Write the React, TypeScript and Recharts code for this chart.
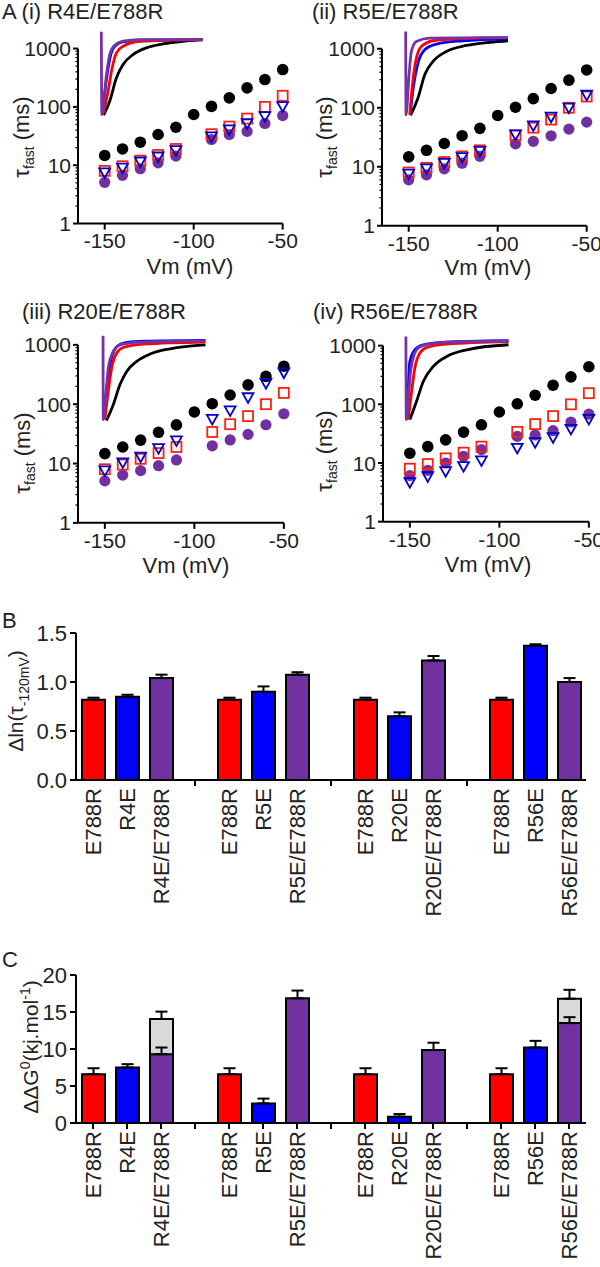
import React from 'react';
import {
  ScatterChart,
  Scatter,
  XAxis,
  YAxis,
  ReferenceLine,
  BarChart,
  Bar,
  Cell,
  ErrorBar,
} from 'recharts';

const FONT = '"Liberation Sans", Arial, Helvetica, sans-serif';
const INK = '#222';
const RED = '#ff0000';
const BLUE = '#0000ff';
const PURPLE = '#7030a0';

// ---------- panel A: tau_fast (ms) vs Vm (mV) ----------
const vmWT = [-150, -140, -130, -120, -110, -100, -90, -80, -70, -60, -50];
const vmMut = [-150, -140, -130, -120, -110, -90, -80, -70, -60, -50];
const xTicksA = [-150, -100, -50];
const yMajor = [1, 10, 100, 1000];
const yMinor = [2, 3, 4, 5, 6, 7, 8, 9, 20, 30, 40, 50, 60, 70, 80, 90, 200, 300, 400, 500, 600, 700, 800, 900];

const tauWT = [14.7, 19, 24.8, 33.6, 44.8, 74, 102, 143, 212, 294, 437];
const tauE788R = [8, 9.6, 12, 15, 19, 34, 46, 63, 100, 155];
const tauR4E = [7.5, 9, 11.5, 14, 18, 31, 41, 52, 69, 102];
const tauR4E_E788R = [5.1, 6.7, 8.7, 11, 14.3, 27.6, 33.6, 38, 52, 71];
const tauR5E = [7.6, 9.3, 11.5, 14.5, 18.5, 35, 50, 70, 100, 165];
const tauR5E_E788R = [6, 7.3, 9.2, 11.5, 15, 24.5, 27, 33.5, 43.5, 57];
const tauR20E = [7.6, 10.4, 13, 18, 24.4, 56, 78, 130, 226, 340];
const tauR20E_E788R = [5.1, 6.4, 7.6, 9.2, 11.5, 19.9, 25, 31, 45, 69];
const tauR56E = [4.7, 5.9, 7.2, 8.8, 11, 18, 22.5, 27.3, 38, 56];
const tauR56E_E788R = [6.1, 7.5, 10, 13, 16.9, 28.4, 30, 35.5, 50, 68];

// inset current traces, [position on Vm axis, position on tau axis]
const trI_black = [[-150.6, 72], [-147.2, 125], [-143.4, 315], [-139.7, 532], [-134.1, 789], [-126.6, 1028], [-117.2, 1205], [-106, 1335], [-94.8, 1410]];
const trI_blue = [[-151.3, 74], [-148.8, 330], [-147, 700], [-144.5, 1080], [-140, 1300], [-130.3, 1400], [-94.8, 1427]];
const trI_red = [[-151, 74], [-148.1, 185], [-146.2, 408], [-143.4, 844], [-139.7, 1096], [-130.3, 1335], [-94.9, 1427]];
const trI_purple = [[-151.9, 1935], [-151.6, 74], [-149, 358], [-147.2, 789], [-144.4, 1140], [-139.7, 1335], [-130.3, 1427], [-94.8, 1427]];

const trII_black = [[-149, 74], [-144.8, 146], [-141, 362], [-136.3, 610], [-128.8, 900], [-117.6, 1137], [-104.5, 1290], [-94.2, 1367]];
const trII_blue = [[-149.2, 76], [-147.2, 245], [-144.8, 572], [-141, 961], [-134.4, 1200], [-119.5, 1367], [-94.2, 1479]];
const trII_red = [[-149.4, 76], [-147.9, 245], [-146.1, 610], [-142.9, 1094], [-136.3, 1367], [-123.2, 1479], [-94.2, 1550]];
const trII_purple = [[-151.7, 1965], [-151.5, 76], [-149.8, 362], [-148.5, 900], [-145.7, 1330], [-138.2, 1515], [-94.2, 1550]];

const trIII_black = [[-149.1, 53], [-145.3, 98], [-141.6, 212], [-137.8, 356], [-132.2, 526], [-124.7, 700], [-113.5, 859], [-93.8, 1000]];
const trIII_blue = [[-150.5, 55], [-148.1, 300], [-146, 650], [-143, 950], [-139, 1080], [-128, 1150], [-93.8, 1190]];
const trIII_red = [[-150, 55], [-148.1, 164], [-146.2, 406], [-143.4, 728], [-139.7, 904], [-128.5, 1030], [-93.8, 1115]];
const trIII_purple = [[-151, 1419], [-150.9, 55], [-148.1, 406], [-145.3, 774], [-141.6, 1000], [-130.3, 1115], [-93.8, 1170]];

const trIV_black = [[-150, 55], [-146.3, 112], [-142.5, 245], [-136.9, 443], [-129.4, 655], [-118.2, 851], [-94.9, 1036]];
const trIV_blue = [[-151.5, 55], [-150, 538], [-147.2, 851], [-142.5, 1036], [-130, 1150], [-94.9, 1212]];
const trIV_red = [[-150.9, 55], [-149, 166], [-147.2, 415], [-144.4, 748], [-140.6, 931], [-129.4, 1065], [-94.9, 1176]];
const trIV_purple = [[-152.2, 1435], [-152, 55], [-149.5, 380], [-147.5, 720], [-145, 930], [-140, 1050], [-128, 1150], [-94.9, 1200]];

// ---------- panels B and C ----------
const barLabels = ['E788R', 'R4E', 'R4E/E788R', '', 'E788R', 'R5E', 'R5E/E788R', '', 'E788R', 'R20E', 'R20E/E788R', '', 'E788R', 'R56E', 'R56E/E788R'];
const dlnTau = [0.82, 0.85, 1.04, null, 0.82, 0.9, 1.075, null, 0.82, 0.65, 1.22, null, 0.82, 1.37, 1.0];
const dlnTauErr = [0.02, 0.02, 0.035, null, 0.02, 0.055, 0.025, null, 0.02, 0.04, 0.045, null, 0.02, 0.015, 0.04];
const ddG = [6.6, 7.5, 9.3, null, 6.6, 2.65, 16.85, null, 6.6, 0.86, 9.85, null, 6.6, 10.2, 13.5];
const ddGErr = [0.8, 0.45, 0.9, null, 0.8, 0.65, 1.05, null, 0.8, 0.35, 1.0, null, 0.8, 0.9, 0.8];
const ddGTotal = [null, null, 14.05, null, null, null, null, null, null, null, null, null, null, null, 16.8];
const ddGTotalErr = [null, null, 1.0, null, null, null, null, null, null, null, null, null, null, null, 1.2];
const bTicks = [0, 0.5, 1, 1.5];
const cTicks = [0, 5, 10, 15, 20];

const pts = (xs: number[], ys: number[]) => xs.map((x, i) => ({ x, y: ys[i] }));
const pairs = (a: number[][]) => a.map(([x, y]) => ({ x, y }));

const BlackDot = (p: any) => <circle cx={p.cx} cy={p.cy} r={5.8} fill="#000" />;
const PurpleDot = (p: any) => <circle cx={p.cx} cy={p.cy} r={5.6} fill={PURPLE} />;
const RedSquare = (p: any) => (
  <rect x={p.cx - 5} y={p.cy - 5} width={10} height={10} fill="none" stroke="#ff2010" strokeWidth={1.8} />
);
const BlueTri = (p: any) => (
  <polygon
    points={`${p.cx - 5.4},${p.cy - 4.2} ${p.cx + 5.4},${p.cy - 4.2} ${p.cx},${p.cy + 5.4}`}
    fill="none"
    stroke="#0000cc"
    strokeWidth={1.8}
  />
);
const NoMark = () => <g />;

function LogTick(props: any) {
  const { x, y, payload } = props;
  const v = payload.value;
  const ax = x + 7;
  const major = yMajor.includes(v);
  return (
    <g>
      <line x1={ax - (major ? 5 : 2.5)} x2={ax} y1={y} y2={y} stroke="#000" strokeWidth={major ? 2 : 1.3} />
      {major && (
        <text x={x} y={y} dy="0.36em" textAnchor="end" fontSize={21} fontFamily={FONT} fill={INK}>
          {v}
        </text>
      )}
    </g>
  );
}

function TauPanel({ cfg }: any) {
  const pxPerMv = (cfg.x50 - cfg.x150) / 100;
  const left = cfg.x50 - 115 * pxPerMv;
  const plotW = cfg.x50 - left;
  const dec = (cfg.y1 - cfg.y1000) / 3;
  const top = cfg.y1000 - dec * Math.log10(2);
  const plotH = cfg.y1 - top;
  const W = 320;
  const ml = 80;
  const mt = 10;
  const xh = 40;
  const H = mt + plotH + xh;
  const traces = [
    { d: cfg.tr[0], c: '#000' },
    { d: cfg.tr[1], c: BLUE },
    { d: cfg.tr[2], c: RED },
    { d: cfg.tr[3], c: '#7434a8' },
  ];
  return (
    <div style={{ position: 'absolute', left: left - ml, top: top - mt }}>
      <ScatterChart
        width={W}
        height={H}
        margin={{ left: 0, top: mt, right: W - ml - plotW, bottom: 0 }}
      >
        <XAxis
          type="number"
          dataKey="x"
          domain={[-165, -50]}
          ticks={xTicksA}
          interval={0}
          height={xh}
          tickSize={6}
          tickMargin={4}
          axisLine={{ stroke: '#000', strokeWidth: 2 }}
          tickLine={{ stroke: '#000', strokeWidth: 2 }}
          tick={{ fontSize: 21, fill: INK, fontFamily: FONT }}
        />
        <YAxis
          type="number"
          dataKey="y"
          scale="log"
          domain={[1, 2000]}
          ticks={[...yMajor, ...yMinor]}
          interval={0}
          width={ml}
          axisLine={false}
          tickLine={false}
          tickSize={5}
          tickMargin={2}
          tick={<LogTick />}
        />
        <ReferenceLine
          segment={[{ x: -165, y: 1 }, { x: -165, y: 1000 }]}
          stroke="#000"
          strokeWidth={2}
        />
        {traces.map((t, i) => (
          <Scatter
            key={'tr' + i}
            data={pairs(t.d)}
            fill={t.c}
            line={{ stroke: t.c, strokeWidth: 2.8 }}
            lineJointType="monotoneX"
            shape={NoMark}
            isAnimationActive={false}
          />
        ))}
        <Scatter data={pts(vmWT, tauWT)} shape={BlackDot} isAnimationActive={false} />
        <Scatter data={pts(vmMut, cfg.dbl)} shape={PurpleDot} isAnimationActive={false} />
        <Scatter data={pts(vmMut, tauE788R)} shape={RedSquare} isAnimationActive={false} />
        <Scatter data={pts(vmMut, cfg.mut)} shape={BlueTri} isAnimationActive={false} />
      </ScatterChart>
    </div>
  );
}

const colorFor = (label: string) => (label === 'E788R' ? RED : label.includes('/') ? PURPLE : BLUE);

function BarTick(props: any) {
  const { x, y, payload, tickAll } = props;
  const label = barLabels[payload.value];
  return (
    <g>
      {(tickAll || label === '') && <line x1={x} x2={x} y1={y} y2={y + 6} stroke="#000" strokeWidth={2} />}
      {label && (
        <text
          transform={`rotate(-90 ${x + 8} ${y + 8})`}
          x={x + 8}
          y={y + 8}
          textAnchor="end"
          fontSize={22}
          fontFamily={FONT}
          fill={INK}
        >
          {label}
        </text>
      )}
    </g>
  );
}

function BarPanel({ top, bottom, vals, errs, over, overErr, yMax, yTicks, fmt, tickAll }: any) {
  const W = 600;
  const mt = 30;
  const xh = 150;
  const plotH = bottom - top;
  const H = mt + plotH + xh;
  const data = barLabels.map((label, i) => ({
    slot: i,
    v: vals[i],
    e: errs[i] == null ? null : [0, errs[i]],
    g: over ? over[i] : null,
    ge: over && over[i] != null ? [0, overErr[i]] : null,
  }));
  return (
    <div style={{ position: 'absolute', left: 0, top: top - mt }}>
      <BarChart
        width={W}
        height={H}
        data={data}
        margin={{ left: 0, right: 14, top: mt, bottom: 0 }}
      >
        <XAxis
          xAxisId="main"
          dataKey="slot"
          type="category"
          interval={0}
          height={xh}
          tickSize={0}
          tickMargin={0}
          tickLine={false}
          axisLine={{ stroke: '#000', strokeWidth: 2 }}
          tick={<BarTick tickAll={tickAll} />}
        />
        <XAxis xAxisId="over" dataKey="slot" type="category" hide />
        <YAxis
          type="number"
          domain={[0, yMax]}
          ticks={yTicks}
          interval={0}
          width={76}
          tickFormatter={fmt}
          tickSize={6}
          tickMargin={3}
          axisLine={{ stroke: '#000', strokeWidth: 2 }}
          tickLine={{ stroke: '#000', strokeWidth: 2 }}
          tick={{ fontSize: 22, fill: INK, fontFamily: FONT }}
        />
        {over && (
          <Bar xAxisId="over" dataKey="g" barSize={23} fill="#d9d9d9" stroke="#000" strokeWidth={2} isAnimationActive={false}>
            <ErrorBar dataKey="ge" width={6} stroke="#000" strokeWidth={2} />
          </Bar>
        )}
        <Bar xAxisId="main" dataKey="v" barSize={23} stroke="#000" strokeWidth={2} isAnimationActive={false}>
          {data.map((d, i) => (
            <Cell key={i} fill={colorFor(barLabels[i])} />
          ))}
          <ErrorBar dataKey="e" width={6} stroke="#000" strokeWidth={2} />
        </Bar>
      </BarChart>
    </div>
  );
}

const tauPanels = [
  { x150: 105, x50: 283, y1000: 49, y1: 224, mut: tauR4E, dbl: tauR4E_E788R, tr: [trI_black, trI_blue, trI_red, trI_purple] },
  { x150: 409, x50: 587, y1000: 49, y1: 226, mut: tauR5E, dbl: tauR5E_E788R, tr: [trII_black, trII_blue, trII_red, trII_purple] },
  { x150: 105, x50: 284, y1000: 345, y1: 523, mut: tauR20E, dbl: tauR20E_E788R, tr: [trIII_black, trIII_blue, trIII_red, trIII_purple] },
  { x150: 410, x50: 589, y1000: 346, y1: 522, mut: tauR56E, dbl: tauR56E_E788R, tr: [trIV_black, trIV_blue, trIV_red, trIV_purple] },
];

const titles = [
  { t: 'A (i) R4E/E788R', x: 2, y: 19 },
  { t: '(ii) R5E/E788R', x: 312, y: 19 },
  { t: '(iii) R20E/E788R', x: 22, y: 319 },
  { t: '(iv) R56E/E788R', x: 313, y: 319 },
  { t: 'B', x: 2, y: 628 },
  { t: 'C', x: 2, y: 967 },
];
const vmLabels = [
  { x: 190, y: 274 },
  { x: 488, y: 275 },
  { x: 186, y: 573 },
  { x: 488, y: 572 },
];
const tauLabels = [
  { x: 29, y: 137 },
  { x: 332, y: 137 },
  { x: 30, y: 453 },
  { x: 332, y: 451 },
];

function Overlay() {
  const txt = { fontFamily: FONT, fill: INK };
  return (
    <svg width={600} height={1267} style={{ position: 'absolute', left: 0, top: 0, pointerEvents: 'none' }}>
      {titles.map((t) => (
        <text key={t.t} x={t.x} y={t.y} fontSize={22} {...txt}>
          {t.t}
        </text>
      ))}
      {vmLabels.map((l, i) => (
        <text key={'vm' + i} x={l.x} y={l.y} fontSize={22} textAnchor="middle" {...txt}>
          Vm (mV)
        </text>
      ))}
      {tauLabels.map((l, i) => (
        <text key={'tau' + i} transform="rotate(-90)" x={-l.y} y={l.x} fontSize={22} textAnchor="middle" {...txt}>
          τ
          <tspan fontSize={14} dy={5}>
            fast
          </tspan>
          <tspan dy={-5}> (ms)</tspan>
        </text>
      ))}
      <text transform="rotate(-90)" x={-701} y={23} fontSize={21} textAnchor="middle" {...txt}>
        Δln(τ
        <tspan fontSize={14} dy={6}>
          -120mV
        </tspan>
        <tspan dy={-6}>)</tspan>
      </text>
      <text transform="rotate(-90)" x={-1047} y={38} fontSize={21} textAnchor="middle" {...txt}>
        ΔΔG
        <tspan fontSize={14} dy={-8}>
          0
        </tspan>
        <tspan dy={8}>(kj.mol</tspan>
        <tspan fontSize={14} dy={-8}>
          -1
        </tspan>
        <tspan dy={8}>)</tspan>
      </text>
    </svg>
  );
}

export default function App() {
  return (
    <div
      style={{
        position: 'absolute',
        left: 0,
        top: 0,
        width: 600,
        height: 1267,
        overflow: 'hidden',
        background: '#fff',
      }}
    >
      {tauPanels.map((p, i) => (
        <TauPanel key={i} cfg={p} />
      ))}
      <BarPanel
        top={632.7}
        bottom={779.7}
        vals={dlnTau}
        errs={dlnTauErr}
        yMax={1.5}
        yTicks={bTicks}
        fmt={(v: number) => v.toFixed(1)}
        tickAll={false}
      />
      <BarPanel
        top={975}
        bottom={1123}
        vals={ddG}
        errs={ddGErr}
        over={ddGTotal}
        overErr={ddGTotalErr}
        yMax={20}
        yTicks={cTicks}
        fmt={(v: number) => String(v)}
        tickAll
      />
      <Overlay />
    </div>
  );
}
